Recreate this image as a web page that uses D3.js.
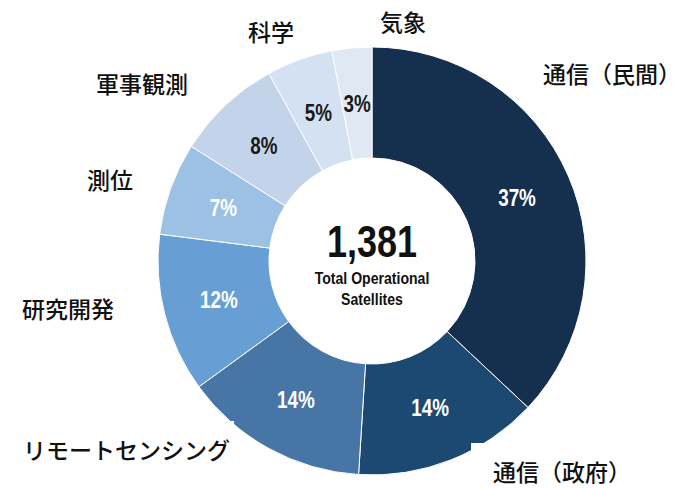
<!DOCTYPE html>
<html>
<head>
<meta charset="utf-8">
<script src="https://cdn.jsdelivr.net/npm/d3@7"></script>
<style>
  body { margin: 0; background: #fff; }
  .pct { font-family: "Liberation Sans", Arial, sans-serif; font-weight: bold; }
  .cat { font-family: "Noto Sans CJK JP", sans-serif; font-weight: 500; fill: #111; }
</style>
</head>
<body>
<div id="chart"></div>
<script>
// data
let categories = ["通信（民間）", "通信（政府）", "リモートセンシング", "研究開発", "測位", "軍事観測", "科学", "気象"];
let shares = [37, 14, 14, 12, 7, 8, 5, 3];
let totalSatellites = 1381;

// styles / layout
let colors = ["#15304e", "#1b4972", "#4775a5", "#679fd5", "#9dc0e5", "#c3d4ea", "#d3e1f2", "#e0e8f4"];
let pctColors = ["#fff", "#fff", "#fff", "#fff", "#fff", "#1a1a1a", "#1a1a1a", "#1a1a1a"];
// label anchor (left x, vertical centre) for each category
let labelPos = [[543, 73], [493, 471], [23, 449], [22, 308], [87, 179], [96, 83], [248, 31], [380, 21]];

var w = 681,
	h = 488;
var cx = 372,
	cy = 261,
	rOuter = 214,
	rInner = 103;

var svg = d3.select("#chart").append("svg").attr("width", w).attr("height", h);

var pie = d3.pie().sort(null).value((d) => d);
var arcs = pie(shares);

var arc = d3.arc().innerRadius(rInner).outerRadius(rOuter);
var labelArc = d3.arc().innerRadius(158).outerRadius(158);

var g = svg.append("g").attr("transform", "translate(" + cx + "," + cy + ")");

g.selectAll("path")
	.data(arcs)
	.enter()
	.append("path")
	.attr("d", arc)
	.attr("fill", (d, i) => colors[i])
	.attr("stroke", "#fff")
	.attr("stroke-width", 1);

g.selectAll("text.pct")
	.data(arcs)
	.enter()
	.append("text")
	.attr("class", "pct")
	.attr("transform", (d) => "translate(" + labelArc.centroid(d) + ") scale(0.82,1)")
	.attr("text-anchor", "middle")
	.attr("dominant-baseline", "central")
	.attr("font-size", 23)
	.attr("fill", (d, i) => pctColors[i])
	.text((d) => d.data + "%");

// centre text
g.append("text")
	.attr("class", "pct")
	.attr("text-anchor", "middle")
	.attr("transform", "translate(0,-4) scale(0.8,1)")
	.attr("font-size", 45)
	.attr("fill", "#111")
	.text(d3.format(",")(totalSatellites));
g.append("text")
	.attr("class", "pct")
	.attr("text-anchor", "middle")
	.attr("transform", "translate(0,23) scale(0.88,1)")
	.attr("font-size", 16)
	.attr("fill", "#111")
	.text("Total Operational");
g.append("text")
	.attr("class", "pct")
	.attr("text-anchor", "middle")
	.attr("transform", "translate(0,44) scale(0.88,1)")
	.attr("font-size", 16)
	.attr("fill", "#111")
	.text("Satellites");

// category labels with white boxes
var lab = svg.selectAll("g.lab")
	.data(categories)
	.enter()
	.append("g")
	.attr("class", "lab")
	.attr("transform", (d, i) => "translate(" + labelPos[i][0] + "," + labelPos[i][1] + ")");

lab.append("text")
	.attr("class", "cat")
	.attr("dominant-baseline", "central")
	.attr("font-size", 23)
	.text((d) => d);

lab.each(function () {
	var t = d3.select(this).select("text");
	var b = t.node().getBBox();
	d3.select(this)
		.insert("rect", "text")
		.attr("x", -22)
		.attr("y", -28)
		.attr("width", b.width + 26)
		.attr("height", 40)
		.attr("fill", "#fff");
});
</script>
</body>
</html>
